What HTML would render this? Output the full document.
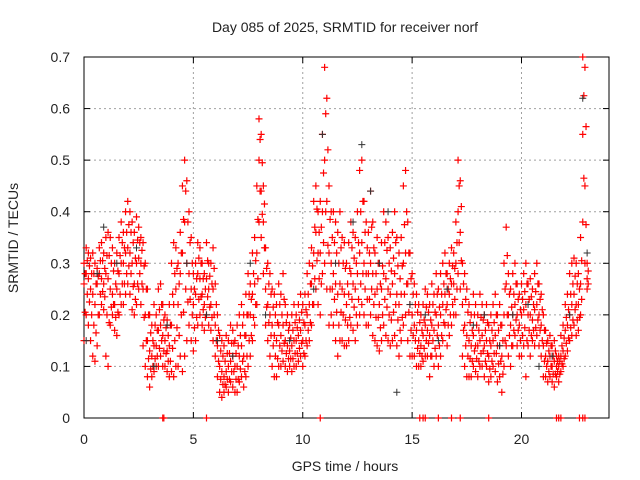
<!DOCTYPE html>
<html><head><meta charset="utf-8"><style>
body{margin:0;background:#fff}
svg{display:block;font-family:"Liberation Sans",sans-serif}
</style></head><body>
<svg id="c" width="640" height="480"></svg>
<script>
const times=[0,.1,.2,.3,.4,.5,.6,.7,.8,.9,1,1.1,1.2,1.3,1.4,1.5,1.6,1.7,1.8,1.9,2,2.1,2.2,2.3,2.4,2.5,2.6,2.7,2.8,2.9,3,3.1,3.2,3.3,3.4,3.5,3.6,3.7,3.8,3.9,4,4.1,4.2,4.3,4.4,4.5,4.6,4.7,4.8,4.9,5,5.1,5.2,5.3,5.4,5.5,5.6,5.7,5.8,5.9,6,6.1,6.2,6.3,6.4,6.5,6.6,6.7,6.8,6.9,7,7.1,7.2,7.3,7.4,7.5,7.6,7.7,7.8,7.9,8,8.1,8.2,8.3,8.4,8.5,8.6,8.7,8.8,8.9,9,9.1,9.2,9.3,9.4,9.5,9.6,9.7,9.8,9.9,10,10.1,10.2,10.3,10.4,10.5,10.6,10.7,10.8,10.9,11,11.1,11.2,11.3,11.4,11.5,11.6,11.7,11.8,11.9,12,12.1,12.2,12.3,12.4,12.5,12.6,12.7,12.8,12.9,13,13.1,13.2,13.3,13.4,13.5,13.6,13.7,13.8,13.9,14,14.1,14.2,14.3,14.4,14.5,14.6,14.7,14.8,14.9,15,15.1,15.2,15.3,15.4,15.5,15.6,15.7,15.8,15.9,16,16.1,16.2,16.3,16.4,16.5,16.6,16.7,16.8,16.9,17,17.1,17.2,17.3,17.4,17.5,17.6,17.7,17.8,17.9,18,18.1,18.2,18.3,18.4,18.5,18.6,18.7,18.8,18.9,19,19.1,19.2,19.3,19.4,19.5,19.6,19.7,19.8,19.9,20,20.1,20.2,20.3,20.4,20.5,20.6,20.7,20.8,20.9,21,21.1,21.2,21.3,21.4,21.5,21.6,21.7,21.8,21.9,22,22.1,22.2,22.3,22.4,22.5,22.6,22.7,22.8,22.9,23];
const hiVals=[.30,.33,.32,.31,.32,.30,.29,.33,.34,.32,.35,.36,.35,.33,.30,.32,.35,.38,.36,.40,.42,.40,.38,.36,.39,.37,.35,.34,.30,.25,.20,.18,.22,.20,.25,.26,.22,.20,.19,.22,.30,.34,.33,.30,.36,.45,.50,.46,.40,.35,.28,.30,.34,.33,.30,.28,.34,.30,.30,.33,.26,.20,.16,.15,.14,.16,.15,.18,.17,.15,.18,.20,.22,.20,.24,.28,.26,.32,.35,.45,.58,.55,.45,.33,.30,.28,.25,.24,.22,.26,.24,.28,.22,.20,.18,.20,.22,.20,.22,.24,.22,.24,.28,.30,.33,.42,.45,.40,.42,.55,.68,.62,.45,.40,.40,.38,.36,.40,.35,.34,.30,.34,.38,.36,.35,.40,.48,.50,.42,.38,.36,.44,.38,.32,.35,.30,.34,.40,.38,.35,.33,.36,.40,.35,.32,.35,.45,.48,.38,.32,.28,.26,.24,.22,.20,.22,.25,.24,.22,.26,.24,.28,.25,.28,.30,.32,.28,.30,.33,.32,.38,.50,.46,.30,.28,.25,.22,.20,.24,.22,.20,.24,.22,.20,.22,.18,.20,.22,.24,.20,.22,.18,.30,.37,.28,.25,.28,.30,.26,.24,.26,.28,.30,.26,.27,.25,.28,.30,.26,.24,.20,.17,.15,.16,.14,.15,.12,.12,.16,.18,.22,.24,.28,.30,.31,.30,.28,.35,.70,.68,.30];
const midVals=[.26,.28,.27,.25,.24,.22,.26,.28,.27,.26,.28,.27,.25,.24,.22,.25,.28,.30,.30,.32,.33,.32,.30,.26,.30,.31,.30,.25,.20,.15,.13,.12,.14,.14,.17,.18,.16,.15,.13,.14,.18,.22,.25,.22,.28,.32,.38,.30,.28,.25,.22,.24,.28,.27,.24,.22,.27,.25,.22,.25,.18,.14,.10,.09,.08,.09,.10,.11,.12,.10,.10,.12,.14,.12,.16,.20,.20,.24,.26,.32,.50,.44,.38,.25,.22,.20,.18,.16,.15,.18,.16,.18,.15,.14,.13,.14,.15,.15,.16,.17,.15,.18,.20,.22,.26,.32,.36,.32,.32,.40,.50,.42,.32,.30,.28,.26,.24,.26,.25,.24,.22,.24,.28,.26,.25,.28,.32,.34,.30,.28,.28,.30,.28,.24,.25,.22,.25,.28,.27,.25,.24,.26,.28,.24,.22,.24,.30,.32,.26,.22,.20,.18,.17,.15,.14,.16,.18,.17,.16,.18,.17,.20,.18,.20,.22,.24,.22,.24,.26,.26,.30,.40,.36,.22,.18,.16,.15,.14,.16,.14,.14,.15,.16,.14,.15,.12,.14,.15,.16,.14,.14,.12,.20,.26,.20,.18,.20,.22,.20,.18,.20,.21,.22,.20,.20,.19,.21,.22,.20,.18,.14,.12,.11,.12,.10,.11,.10,.10,.12,.13,.17,.18,.20,.22,.24,.22,.22,.26,.55,.45,.27];
const loVals=[.15,.20,.18,.15,.12,.11,.14,.20,.22,.21,.12,.10,.18,.20,.17,.16,.20,.22,.22,.24,.26,.24,.21,.20,.22,.25,.22,.14,.10,.08,.06,.08,.09,.10,.10,.12,.10,.10,.09,.08,.09,.08,.10,.10,.12,.09,.12,.15,.18,.15,.13,.15,.18,.20,.18,.17,.20,.18,.17,.15,.12,.08,.05,.04,.05,.06,.05,.07,.06,.05,.05,.07,.08,.06,.08,.10,.12,.15,.18,.22,.38,.35,.28,.18,.15,.12,.10,.08,.08,.10,.10,.11,.10,.09,.10,.09,.10,.10,.11,.12,.10,.12,.14,.15,.18,.22,.25,.22,.20,.28,.30,.25,.18,.20,.18,.15,.12,.15,.15,.14,.14,.15,.18,.17,.15,.18,.20,.22,.20,.18,.18,.20,.16,.15,.14,.13,.15,.18,.16,.15,.14,.15,.16,.14,.12,.15,.18,.20,.15,.12,.12,.12,.10,.10,.10,.11,.12,.12,.08,.12,.10,.12,.10,.12,.15,.18,.14,.16,.18,.20,.20,.28,.25,.12,.10,.08,.08,.08,.10,.09,.08,.10,.10,.08,.10,.07,.08,.10,.09,.07,.08,.05,.10,.14,.12,.10,.14,.16,.14,.12,.12,.14,.08,.14,.12,.15,.14,.16,.14,.12,.08,.08,.07,.08,.07,.06,.08,.07,.09,.10,.12,.13,.15,.16,.18,.16,.17,.20,.38,.30,.25];
const blackTimes=[0.1,0.6,0.9,1.5,2.4,3.2,3.8,4.7,5.6,6.1,6.8,7.6,8.3,9.4,10.5,10.9,11.5,12.3,12.7,13.1,13.5,13.9,14.3,14.9,15.6,16.2,16.6,17.8,18.3,19.0,19.6,20.3,20.8,21.4,22.2,22.8,23.0];
const blackVals=[.15,.28,.37,.30,.33,.10,.18,.30,.20,.15,.12,.30,.20,.15,.25,.55,.30,.38,.53,.44,.30,.40,.05,.22,.20,.15,.25,.18,.20,.14,.20,.22,.10,.12,.20,.62,.32];
const zeroTimes=[3.6,3.65,5.6,10.8,15.35,15.5,15.6,16.2,16.8,17.2,18.5,21.6,21.7,21.8,22.65,22.8,22.9];
const xTicks=[0,5,10,15,20];
const yTicks=[0,0.1,0.2,0.3,0.4,0.5,0.6,0.7];
const yTickLabels=["0","0.1","0.2","0.3","0.4","0.5","0.6","0.7"];

const L=84,R=609,T=57,B=418;
const xs=t=>L+t/24*(R-L), ys=v=>B-v/0.7*(B-T);
const svg=document.getElementById('c');const NS='http://www.w3.org/2000/svg';
function mk(tag,attrs,parent){const e=document.createElementNS(NS,tag);for(const k in attrs)e.setAttribute(k,attrs[k]);(parent||svg).appendChild(e);return e;}
const grid=mk('g',{stroke:'#a0a0a0','stroke-width':1,'stroke-dasharray':'2,3'});


xTicks.forEach(t=>{if(t>0)mk('line',{x1:xs(t),x2:xs(t),y1:T,y2:B},grid);});
yTicks.forEach(v=>{if(v>0&&v<0.7)mk('line',{x1:L,x2:R,y1:ys(v),y2:ys(v)},grid);});
const ax=mk('g',{stroke:'#000','stroke-width':1});


mk('rect',{x:L,y:T,width:R-L,height:B-T,fill:'none'},ax);
const lab=mk('g',{'font-size':14,fill:'#222'});
xTicks.forEach(t=>{mk('line',{x1:xs(t),x2:xs(t),y1:B,y2:B-6},ax);mk('line',{x1:xs(t),x2:xs(t),y1:T,y2:T+6},ax);
 const tx=mk('text',{x:xs(t),y:B+26,'text-anchor':'middle'},lab);tx.textContent=t;
 
 });
yTicks.forEach((v,i)=>{mk('line',{x1:L,x2:L+6,y1:ys(v),y2:ys(v)},ax);mk('line',{x1:R,x2:R-6,y1:ys(v),y2:ys(v)},ax);
 const tx=mk('text',{x:L-14,y:ys(v)+5,'text-anchor':'end'},lab);tx.textContent=yTickLabels[i];
 
 });
function plus(g,x,y){mk('path',{d:`M${x-3.5} ${y}h7M${x} ${y-3.5}v7`},g);}
const red=mk('g',{stroke:'#f00','stroke-width':1.2,fill:'none'});


const blk=mk('g',{stroke:'#333','stroke-width':1,fill:'none'});


blackTimes.forEach((t,i)=>plus(blk,xs(t),ys(blackVals[i])));
times.forEach((t,i)=>{[hiVals[i],midVals[i],loVals[i]].forEach(v=>plus(red,xs(t),ys(v)));
 plus(red,xs(t+0.05),ys((hiVals[i]+midVals[i])/2));plus(red,xs(t+0.05),ys((midVals[i]+loVals[i])/2));});
zeroTimes.forEach(t=>plus(red,xs(t),ys(0)));
const title=mk('text',{x:345,y:32,'text-anchor':'middle','font-size':14,fill:'#222'});title.textContent='Day 085 of 2025, SRMTID for receiver norf';


const xl=mk('text',{x:345,y:471,'text-anchor':'middle','font-size':14,fill:'#222'});xl.textContent='GPS time / hours';


const yl=mk('text',{x:0,y:0,'text-anchor':'middle','font-size':14,fill:'#222',transform:'translate(18,238) rotate(-90)'});yl.textContent='SRMTID / TECUs';


</script>
</body></html>
